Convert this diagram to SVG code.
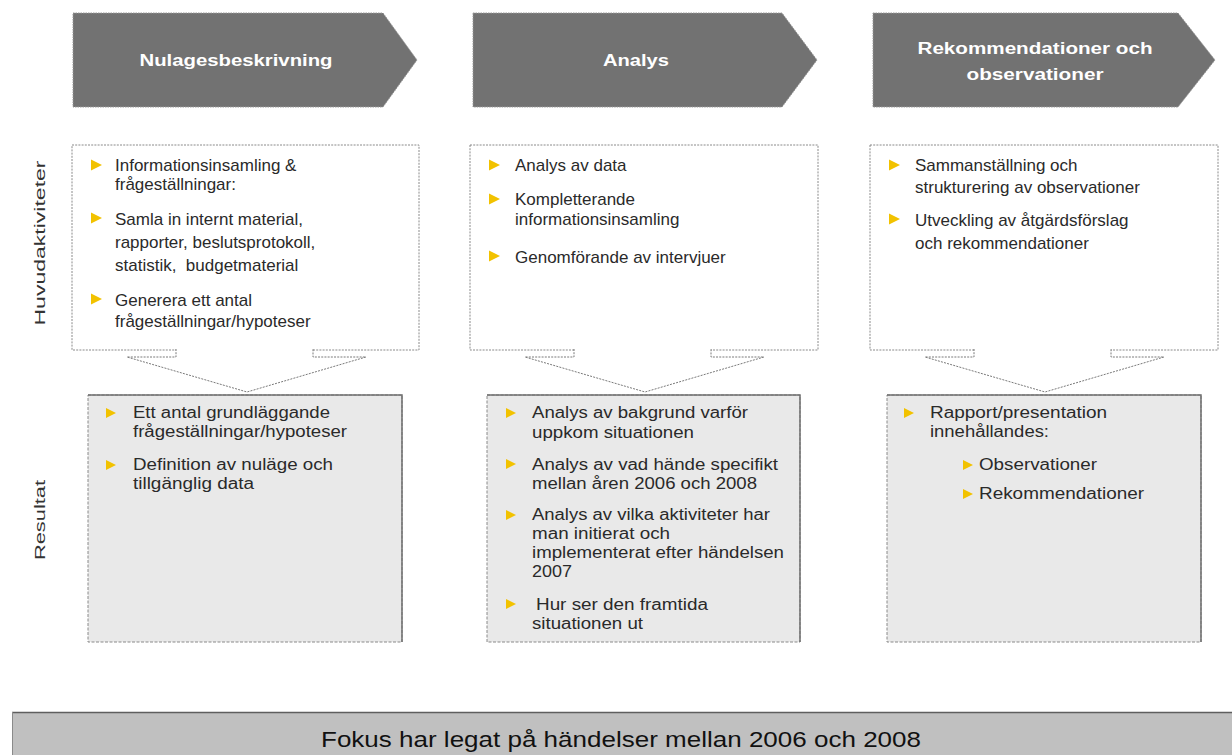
<svg xmlns="http://www.w3.org/2000/svg" xmlns:xlink="http://www.w3.org/1999/xlink" width="1232" height="755" viewBox="0 0 1232 755">
<defs>
<path id="tri" d="M0,-5.5 L11,0 L0,5.5 Z" fill="#f2c200"/>
<path id="tri2" d="M0,-5 L10,0 L0,5 Z" fill="#f2c200"/>
<style>
.chev{fill:#727272;stroke:#9a9a9a;stroke-width:1;stroke-dasharray:1.5 1}
.ht{font-family:"Liberation Sans",Arial,sans-serif;font-weight:bold;font-size:16px;fill:#ffffff;text-anchor:middle}
.act{fill:#ffffff;stroke:#8a8a8a;stroke-width:1;stroke-dasharray:2 1.2}
.res{fill:#e9e9e9;stroke:#8a8a8a;stroke-width:1;stroke-dasharray:3 1.5}
.edge{fill:none;stroke:#6f6f6f;stroke-width:1.5}
.t1{font-family:"Liberation Sans",Arial,sans-serif;font-size:17px;fill:#2a2a2a}
.t2{font-family:"Liberation Sans",Arial,sans-serif;font-size:16px;fill:#2a2a2a}
.side{font-family:"Liberation Sans",Arial,sans-serif;font-size:15px;fill:#333333;text-anchor:middle}
.ptr{fill:#ffffff;stroke:#7a7a7a;stroke-width:1;stroke-dasharray:2 1.2}
</style>
</defs>
<rect width="1232" height="755" fill="#ffffff"/>

<g id="phase1">
<polygon class="chev" points="73,13 383,13 417,60 383,107 73,107"/>
<text class="ht" x="236" y="66" textLength="193" lengthAdjust="spacingAndGlyphs">Nulagesbeskrivning</text>
</g>
<g id="phase2">
<polygon class="chev" points="473,13 782,13 817,60 782,107 473,107"/>
<text class="ht" x="636" y="66" textLength="66" lengthAdjust="spacingAndGlyphs">Analys</text>
</g>
<g id="phase3">
<polygon class="chev" points="873,13 1178,13 1215,60 1178,107 873,107"/>
<text class="ht" x="1035" y="54" textLength="235" lengthAdjust="spacingAndGlyphs">Rekommendationer och</text>
<text class="ht" x="1035" y="80" textLength="137" lengthAdjust="spacingAndGlyphs">observationer</text>
</g>

<g id="label-huvud">
<text class="side" transform="translate(45,243) rotate(-90)" textLength="165" lengthAdjust="spacingAndGlyphs">Huvudaktiviteter</text>
</g>
<g id="label-resultat">
<text class="side" transform="translate(45,520) rotate(-90)" textLength="80" lengthAdjust="spacingAndGlyphs">Resultat</text>
</g>

<g id="activities1">
<rect class="act" x="72" y="145" width="347" height="205"/>
<use xlink:href="#tri" x="91" y="165"/>
<text class="t1" x="115" y="171">Informationsinsamling &amp;</text>
<text class="t1" x="115" y="190">frågeställningar:</text>
<use xlink:href="#tri" x="91" y="218"/>
<text class="t1" x="115" y="225">Samla in internt material,</text>
<text class="t1" x="115" y="248">rapporter, beslutsprotokoll,</text>
<text class="t1" x="115" y="271" xml:space="preserve">statistik,  budgetmaterial</text>
<use xlink:href="#tri" x="91" y="299"/>
<text class="t1" x="115" y="306">Generera ett antal</text>
<text class="t1" x="115" y="327">frågeställningar/hypoteser</text>
</g>
<g id="activities2">
<rect class="act" x="470" y="145" width="348" height="205"/>
<use xlink:href="#tri" x="489" y="165"/>
<text class="t1" x="515" y="171">Analys av data</text>
<use xlink:href="#tri" x="489" y="199"/>
<text class="t1" x="515" y="205">Kompletterande</text>
<text class="t1" x="515" y="225">informationsinsamling</text>
<use xlink:href="#tri" x="489" y="256"/>
<text class="t1" x="515" y="263">Genomförande av intervjuer</text>
</g>
<g id="activities3">
<rect class="act" x="870" y="145" width="348" height="205"/>
<use xlink:href="#tri" x="889" y="165"/>
<text class="t1" x="915" y="171">Sammanställning och</text>
<text class="t1" x="915" y="193">strukturering av observationer</text>
<use xlink:href="#tri" x="889" y="219"/>
<text class="t1" x="915" y="226">Utveckling av åtgärdsförslag</text>
<text class="t1" x="915" y="249">och rekommendationer</text>
</g>

<g id="connectors">
<path class="ptr" d="M176,349 V357 H127 L247,392 L366,357 H313 V349"/>
<path class="ptr" d="M574,349 V357 H525 L645,392 L764,357 H711 V349"/>
<path class="ptr" d="M974,349 V357 H925 L1045,392 L1164,357 H1111 V349"/>
</g>

<g id="result1">
<rect class="res" x="88" y="395" width="314" height="247"/>
<polyline class="edge" points="88,395 402,395 402,642"/>
<use xlink:href="#tri2" x="106" y="413"/>
<text class="t2" x="133" y="418" textLength="197" lengthAdjust="spacingAndGlyphs">Ett antal grundläggande</text>
<text class="t2" x="133" y="437" textLength="214" lengthAdjust="spacingAndGlyphs">frågeställningar/hypoteser</text>
<use xlink:href="#tri2" x="106" y="465"/>
<text class="t2" x="133" y="470" textLength="200" lengthAdjust="spacingAndGlyphs">Definition av nuläge och</text>
<text class="t2" x="133" y="489" textLength="121" lengthAdjust="spacingAndGlyphs">tillgänglig data</text>
</g>
<g id="result2">
<rect class="res" x="487" y="395" width="313" height="247"/>
<polyline class="edge" points="487,395 800,395 800,642"/>
<use xlink:href="#tri2" x="506" y="413"/>
<text class="t2" x="532" y="418" textLength="216" lengthAdjust="spacingAndGlyphs">Analys av bakgrund varför</text>
<text class="t2" x="532" y="438" textLength="162" lengthAdjust="spacingAndGlyphs">uppkom situationen</text>
<use xlink:href="#tri2" x="506" y="464"/>
<text class="t2" x="532" y="470" textLength="246" lengthAdjust="spacingAndGlyphs">Analys av vad hände specifikt</text>
<text class="t2" x="532" y="489" textLength="225" lengthAdjust="spacingAndGlyphs">mellan åren 2006 och 2008</text>
<use xlink:href="#tri2" x="506" y="515"/>
<text class="t2" x="532" y="520" textLength="238" lengthAdjust="spacingAndGlyphs">Analys av vilka aktiviteter har</text>
<text class="t2" x="532" y="539" textLength="138" lengthAdjust="spacingAndGlyphs">man initierat och</text>
<text class="t2" x="532" y="558" textLength="252" lengthAdjust="spacingAndGlyphs">implementerat efter händelsen</text>
<text class="t2" x="532" y="577" textLength="40" lengthAdjust="spacingAndGlyphs">2007</text>
<use xlink:href="#tri2" x="506" y="604"/>
<text class="t2" x="536" y="610" textLength="172" lengthAdjust="spacingAndGlyphs">Hur ser den framtida</text>
<text class="t2" x="532" y="629" textLength="111" lengthAdjust="spacingAndGlyphs">situationen ut</text>
</g>
<g id="result3">
<rect class="res" x="887" y="395" width="314" height="247"/>
<polyline class="edge" points="887,395 1201,395 1201,642"/>
<use xlink:href="#tri2" x="904" y="413"/>
<text class="t2" x="930" y="418" textLength="177" lengthAdjust="spacingAndGlyphs">Rapport/presentation</text>
<text class="t2" x="930" y="437" textLength="119" lengthAdjust="spacingAndGlyphs">innehållandes:</text>
<use xlink:href="#tri2" x="963" y="465"/>
<text class="t2" x="979" y="470" textLength="118" lengthAdjust="spacingAndGlyphs">Observationer</text>
<use xlink:href="#tri2" x="963" y="494"/>
<text class="t2" x="979" y="499" textLength="165" lengthAdjust="spacingAndGlyphs">Rekommendationer</text>
</g>

<g id="focus-bar">
<rect x="12" y="712" width="1230" height="50" fill="#c0c0c0"/>
<line x1="12" y1="712.5" x2="1232" y2="712.5" stroke="#5e5e5e" stroke-width="1.5"/>
<line x1="12.5" y1="712" x2="12.5" y2="755" stroke="#8a8a8a" stroke-width="1"/>
<text x="621" y="747" font-family="'Liberation Sans',Arial,sans-serif" font-size="22" fill="#111111" text-anchor="middle" textLength="600" lengthAdjust="spacingAndGlyphs">Fokus har legat på händelser mellan 2006 och 2008</text>
</g>
</svg>
